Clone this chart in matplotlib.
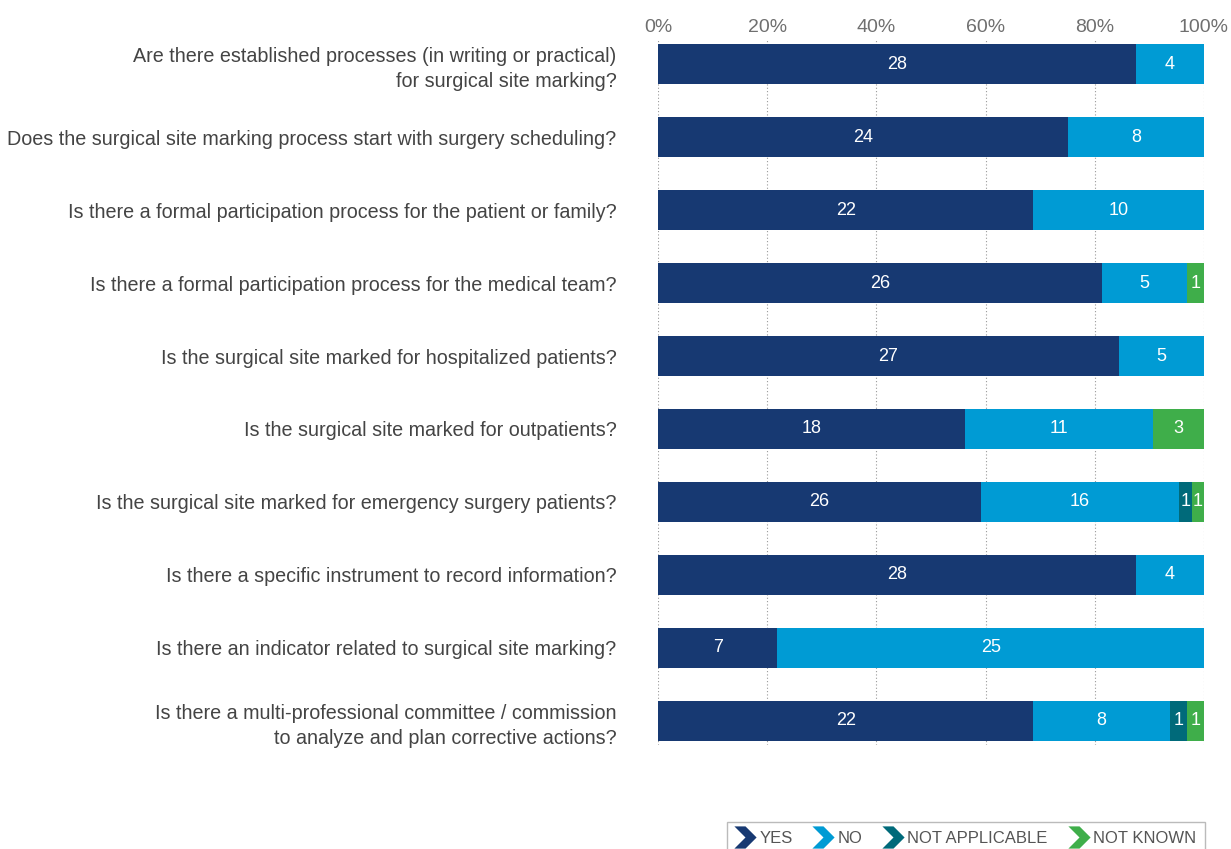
import matplotlib
matplotlib.use("Agg")
import matplotlib.pyplot as plt
import numpy as np
from matplotlib.path import Path
from matplotlib.lines import Line2D
from matplotlib.ticker import PercentFormatter

plt.rcParams['font.family'] = ['Liberation Sans', 'DejaVu Sans']

questions = [
    "Are there established processes (in writing or practical)\nfor surgical site marking?",
    "Does the surgical site marking process start with surgery scheduling?",
    "Is there a formal participation process for the patient or family?",
    "Is there a formal participation process for the medical team?",
    "Is the surgical site marked for hospitalized patients?",
    "Is the surgical site marked for outpatients?",
    "Is the surgical site marked for emergency surgery patients?",
    "Is there a specific instrument to record information?",
    "Is there an indicator related to surgical site marking?",
    "Is there a multi-professional committee / commission\nto analyze and plan corrective actions?",
]
yes_counts = [28, 24, 22, 26, 27, 18, 26, 28, 7, 22]
no_counts = [4, 8, 10, 5, 5, 11, 16, 4, 25, 8]
na_counts = [0, 0, 0, 0, 0, 0, 1, 0, 0, 1]
nk_counts = [0, 0, 0, 1, 0, 3, 1, 0, 0, 1]
series_names = ["YES", "NO", "NOT APPLICABLE", "NOT KNOWN"]
series_colors = ["#173972", "#009bd4", "#006a7a", "#3fae4a"]
x_ticks = [0, 20, 40, 60, 80, 100]

counts = np.array([yes_counts, no_counts, na_counts, nk_counts], dtype=float)
totals = counts.sum(axis=0)
shares = counts / totals * 100

fig = plt.figure(figsize=(12.31, 8.49), dpi=100)
W, H = 1231, 849
ax = fig.add_axes([658 / W, 1 - 745 / H, (1204 - 658) / W, (745 - 40) / H])

y = np.arange(len(questions))
left = np.zeros(len(questions))
for k in range(4):
    ax.barh(y, shares[k], left=left, height=0.55, color=series_colors[k],
            edgecolor='none', zorder=3)
    for i in range(len(questions)):
        if counts[k, i] > 0:
            ax.text(left[i] + shares[k, i] / 2, y[i], f"{int(counts[k, i])}",
                    ha='center', va='center', color='white', fontsize=13,
                    zorder=4)
    left += shares[k]

ax.set_xlim(0, 100)
ax.set_ylim(9 + 0.33, -0.33)
ax.set_xticks(x_ticks)
ax.xaxis.set_major_formatter(PercentFormatter(decimals=0))
ax.xaxis.tick_top()
ax.tick_params(axis='x', length=0, pad=3, labelsize=14, labelcolor='#6f6f6f')
ax.set_yticks(y)
ax.set_yticklabels(questions, fontsize=14.2, color='#444444', linespacing=1.4)
ax.tick_params(axis='y', length=0, pad=30)
for lbl in ax.get_yticklabels():
    lbl.set_horizontalalignment('right')
    lbl.set_multialignment('right')
for s in ax.spines.values():
    s.set_visible(False)
ax.grid(axis='x', linestyle=(0, (1, 2)), color='#999999', linewidth=0.8, zorder=0)
ax.set_axisbelow(True)

# chevron legend marker
chev = Path([(-1, 1), (0, 1), (1, 0), (0, -1), (-1, -1), (0, 0), (-1, 1)],
            [Path.MOVETO] + [Path.LINETO] * 5 + [Path.CLOSEPOLY])
handles = [Line2D([], [], marker=chev, markersize=16, linestyle='none',
                  color=c, markeredgewidth=0) for c in series_colors]
leg = fig.legend(handles, series_names, loc='lower right',
                 bbox_to_anchor=(1205 / W, -6 / H), ncol=4, frameon=True,
                 fancybox=False, fontsize=12, handletextpad=0.3,
                 columnspacing=1.3, handlelength=1.1, borderpad=0.55,
                 borderaxespad=0, labelcolor='#555555')
leg.get_frame().set_edgecolor('#aaaaaa')
leg.get_frame().set_linewidth(1.0)

fig.savefig("out.png", dpi=100)
